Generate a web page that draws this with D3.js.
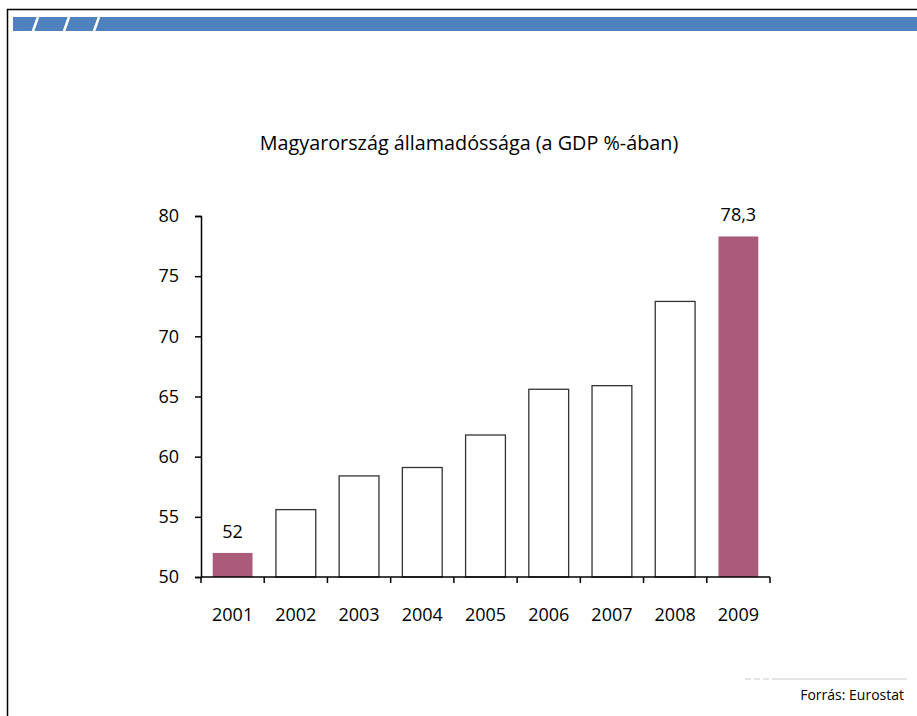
<!DOCTYPE html>
<html>
<head>
<meta charset="utf-8">
<script src="https://cdn.jsdelivr.net/npm/d3@7"></script>
<style>
	body { margin: 0; background: #fff; }
	svg { display: block; font-family: 'Open Sans', sans-serif; }
</style>
</head>
<body>
<svg id="chart" width="917" height="716"></svg>
<script>
// data
const years = ['2001', '2002', '2003', '2004', '2005', '2006', '2007', '2008', '2009'];
const debt = [52, 55.6, 58.4, 59.1, 61.8, 65.6, 65.9, 72.9, 78.3];
const highlighted = ['2001', '2009'];
const yTicks = [50, 55, 60, 65, 70, 75, 80];

const width = 917;
const height = 716;
const margin = { top: 216, right: 147, bottom: 139, left: 201 };

const svg = d3.select('#chart');

// slide frame + header bar
svg.append('path')
	.attr('d', `M7.5,${height} V9.5 H${width}`)
	.attr('fill', 'none')
	.attr('stroke', '#000')
	.attr('stroke-width', 1.5);
svg.append('rect')
	.attr('x', 13).attr('y', 17)
	.attr('width', width - 13).attr('height', 14)
	.attr('fill', '#4f81bd');
[35, 66, 96].forEach(x => {
	svg.append('line')
		.attr('x1', x + 3).attr('y1', 17)
		.attr('x2', x - 2).attr('y2', 31)
		.attr('stroke', '#fff')
		.attr('stroke-width', 2.5);
});

// title
svg.append('text')
	.attr('x', 469)
	.attr('y', 150)
	.attr('text-anchor', 'middle')
	.style('font-size', '19.8px')
	.text('Magyarország államadóssága (a GDP %-ában)');

const xScale = d3.scaleBand()
	.domain(years)
	.range([margin.left, width - margin.right])
	.paddingInner(0.37)
	.paddingOuter(0.185);

const yScale = d3.scaleLinear()
	.domain([50, 80])
	.range([height - margin.bottom, margin.top]);

const g = svg.append('g');

// bars
g.selectAll('rect.bar')
	.data(years)
	.enter()
	.append('rect')
	.attr('class', 'bar')
	.attr('x', d => xScale(d))
	.attr('width', xScale.bandwidth())
	.attr('y', (d, i) => yScale(debt[i]))
	.attr('height', (d, i) => yScale(50) - yScale(debt[i]))
	.attr('fill', d => highlighted.includes(d) ? '#aa5b79' : '#fff')
	.attr('stroke', d => highlighted.includes(d) ? 'none' : '#333')
	.attr('stroke-width', 1.3);

// value labels on the highlighted bars
g.selectAll('text.val')
	.data(years.filter(d => highlighted.includes(d)))
	.enter()
	.append('text')
	.attr('class', 'val')
	.attr('x', d => xScale(d) + xScale.bandwidth() / 2)
	.attr('y', d => yScale(debt[years.indexOf(d)]) - 15)
	.attr('text-anchor', 'middle')
	.style('font-size', '18px')
	.text(d => String(debt[years.indexOf(d)]).replace('.', ','));

// y axis
const yAxis = d3.axisLeft(yScale)
	.tickValues(yTicks)
	.tickSize(6)
	.tickPadding(16);
const yG = svg.append('g')
	.attr('transform', `translate(${margin.left},0)`)
	.call(yAxis);
yG.select('.domain').attr('stroke-width', 1.5);
yG.selectAll('line').attr('stroke-width', 1.5);
yG.selectAll('text').style('font-size', '18px').style('font-family', "'Open Sans', sans-serif").attr('fill', '#000');

// x axis: ticks at category boundaries
const xG = svg.append('g')
	.attr('transform', `translate(0,${height - margin.bottom})`);
xG.append('line')
	.attr('x1', margin.left).attr('x2', width - margin.right)
	.attr('stroke', '#000').attr('stroke-width', 1.5);
const step = xScale.step();
xG.selectAll('line.tick')
	.data(d3.range(years.length + 1))
	.enter()
	.append('line')
	.attr('class', 'tick')
	.attr('x1', i => margin.left + i * step)
	.attr('x2', i => margin.left + i * step)
	.attr('y1', 0).attr('y2', 6)
	.attr('stroke', '#000').attr('stroke-width', 1.5);
xG.selectAll('text')
	.data(years)
	.enter()
	.append('text')
	.attr('x', d => xScale(d) + xScale.bandwidth() / 2)
	.attr('y', 44)
	.attr('text-anchor', 'middle')
	.style('font-size', '18px')
	.text(d => d);

// footer
svg.append('line')
	.attr('x1', 745).attr('x2', 907)
	.attr('y1', 679).attr('y2', 679)
	.attr('stroke', '#ddd')
	.attr('stroke-width', 1.5)
	.attr('stroke-dasharray', '6 3 6 3 6 3 200');
svg.append('text')
	.attr('x', 904)
	.attr('y', 700)
	.attr('text-anchor', 'end')
	.style('font-size', '14px')
	.text('Forrás: Eurostat');
</script>
</body>
</html>
